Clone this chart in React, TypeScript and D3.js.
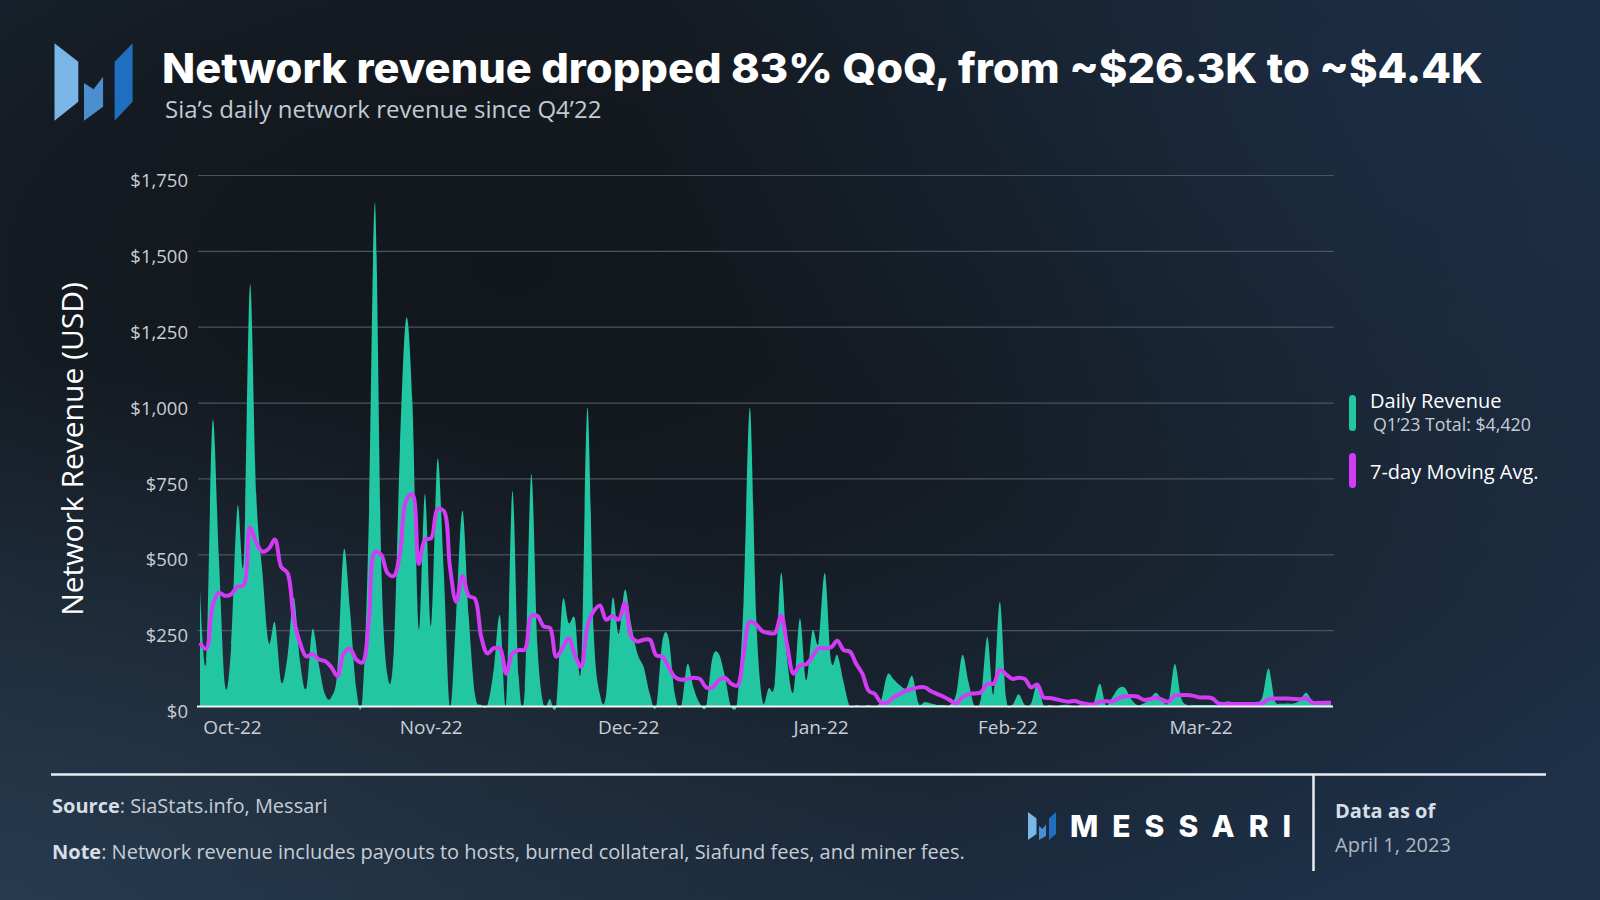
import React from "react";
import * as d3 from "d3";

// ---- Data ----
const dailyRevenue: number[] = [
  390, 150, 940, 500, 70, 200, 660, 480, 1390, 700,
  440, 210, 277, 80, 165, 360, 150, 60, 255, 140,
  40, 30, 120, 515, 320, 60, 30, 600, 1660, 480,
  105, 180, 850, 1280, 1000, 255, 700, 265, 815, 450,
  0, 300, 645, 300, 40, 5, 5, 120, 300, 10,
  710, 100, 60, 765, 200, 5, 25, 0, 345, 275,
  290, 130, 985, 250, 40, 40, 355, 240, 385, 270,
  175, 130, 40, 0, 215, 225, 40, 0, 140, 60,
  10, 0, 160, 175, 100, 0, 20, 350, 985, 300,
  20, 60, 80, 440, 150, 50, 290, 86, 250, 210,
  440, 150, 170, 80, 0, 5, 0, 5, 0, 20,
  105, 90, 70, 60, 100, 10, 15, 10, 5, 5,
  5, 40, 170, 80, 0, 30, 230, 40, 345, 30,
  5, 40, 5, 10, 75, 5, 5, 0, 5, 5,
  0, 5, 0, 10, 75, 5, 30, 60, 62, 25,
  5, 10, 25, 45, 20, 15, 140, 30, 5, 5,
  5, 5, 5, 5, 15, 15, 5, 10, 15, 15,
  30, 125, 20, 10, 10, 10, 20, 45, 20, 10,
  10, 10,
];

const movingAvg: number[] = [
  210, 190, 330, 375, 365, 370, 395, 400, 590, 540,
  510, 520, 550, 460, 440, 290, 210, 165, 173, 155,
  150, 130, 100, 175, 190, 155, 145, 280, 510, 500,
  440, 430, 505, 680, 700, 470, 550, 555, 650, 645,
  460, 345, 430, 365, 355, 230, 175, 192, 192, 108,
  175, 186, 188, 298, 298, 264, 259, 164, 192, 225,
  169, 130, 264, 314, 333, 286, 298, 286, 342, 231,
  214, 220, 220, 169, 164, 130, 97, 88, 91, 95,
  91, 63, 63, 86, 95, 75, 69, 175, 281, 270,
  248, 242, 242, 300, 197, 108, 136, 139, 164, 192,
  192, 195, 217, 186, 181, 141, 108, 52, 41, 13,
  13, 30, 41, 52, 58, 63, 63, 50, 41, 32,
  21, 10, 30, 41, 43, 47, 75, 75, 121, 106,
  91, 95, 91, 63, 72, 30, 28, 24, 19, 16,
  18, 12, 8, 7, 16, 17, 17, 27, 33, 35,
  33, 22, 24, 29, 22, 16, 36, 38, 38, 35,
  30, 30, 27, 10, 8, 8, 8, 8, 8, 8,
  10, 24, 26, 26, 26, 25, 24, 28, 13, 12,
  12, 12,
];

const monthLabels: string[] = ["Oct-22", "Nov-22", "Dec-22", "Jan-22", "Feb-22", "Mar-22"];
const monthLabelDay: number[] = [5.2, 37.0, 68.6, 99.4, 129.3, 160.2];
const yTicks: number[] = [0, 250, 500, 750, 1000, 1250, 1500, 1750];

const TEAL = "#22c6a2";
const PURPLE = "#d23cf6";
const FONT = "'Open Sans', 'Noto Sans', sans-serif";

export default function App() {
  const W = 1600;
  const H = 900;
  const x = d3.scaleLinear().domain([0, dailyRevenue.length - 1]).range([200, 1331]);
  const y = d3.scaleLinear().domain([0, 1750]).range([706.5, 175.5]);

  const area = d3
    .area<number>()
    .x((_, i) => x(i))
    .y0(y(0))
    .y1((d) => y(d))
    .curve(d3.curveCatmullRom.alpha(0));
  const line = d3
    .line<number>()
    .x((_, i) => x(i))
    .y((d) => y(d))
    .curve(d3.curveCatmullRom.alpha(0.5));

  const fmt = d3.format("$,");

  return (
    <svg
      width={W}
      height={H}
      viewBox={`0 0 ${W} ${H}`}
      style={{ position: "absolute", left: 0, top: 0, display: "block" }}
    >
      <defs>
        <radialGradient id="bg" cx="0.32" cy="0.3" r="0.85" gradientUnits="objectBoundingBox">
          <stop offset="0" stopColor="#12171c" />
          <stop offset="0.35" stopColor="#141a21" />
          <stop offset="0.7" stopColor="#1a2634" />
          <stop offset="1" stopColor="#1d3047" />
        </radialGradient>
        <radialGradient id="glowBL" cx="0" cy="1" r="0.6">
          <stop offset="0" stopColor="#2a3e52" stopOpacity="0.75" />
          <stop offset="1" stopColor="#2a3e52" stopOpacity="0" />
        </radialGradient>
        <radialGradient id="glowTR" cx="1" cy="0.1" r="0.6">
          <stop offset="0" stopColor="#1c2f48" stopOpacity="0.8" />
          <stop offset="1" stopColor="#1c2f48" stopOpacity="0" />
        </radialGradient>
        <clipPath id="plotClip">
          <rect x={195} y={150} width={1145} height={y(0) + 3 - 150} />
        </clipPath>
      </defs>
      <rect x={0} y={0} width={W} height={H} fill="url(#bg)" />
      <rect x={0} y={0} width={W} height={H} fill="url(#glowBL)" />
      <rect x={0} y={0} width={W} height={H} fill="url(#glowTR)" />

      {/* Logo */}
      <g>
        <polygon points="54.5,43.3 78.3,61.7 78.3,101.7 54.5,120.7" fill="#7ab7e6" />
        <polygon points="84,83 93.6,89.3 103.1,76.7 103.1,106.7 84,120.7" fill="#4b8fd0" />
        <polygon points="132.6,43.3 114.6,61.7 114.6,120.7 132.6,101.7" fill="#1f6ebf" />
      </g>

      {/* Title */}
      <text
        x={162}
        y={83}
        fill="#ffffff"
        fontFamily="Inter, 'Open Sans', sans-serif"
        fontWeight={800}
        fontSize={41}
        textLength={1321}
        lengthAdjust="spacingAndGlyphs"
      >
        Network revenue dropped 83% QoQ, from ~$26.3K to ~$4.4K
      </text>
      <text x={165} y={118} fill="#c3cad3" fontFamily={FONT} fontSize={24}>
        Sia’s daily network revenue since Q4’22
      </text>

      {/* Gridlines */}
      {yTicks
        .filter((t) => t > 0)
        .map((t) => (
          <line key={t} x1={198} x2={1334} y1={y(t)} y2={y(t)} stroke="#4a5360" strokeWidth={1.2} />
        ))}

      {/* Y tick labels */}
      {yTicks.map((t) => (
        <text
          key={"l" + t}
          x={188}
          y={y(t) + 5}
          dy="0.36em"
          textAnchor="end"
          fill="#c9ced5"
          fontFamily={FONT}
          fontSize={18.5}
        >
          {fmt(t)}
        </text>
      ))}

      {/* Y axis title */}
      <text
        transform={`translate(83,449) rotate(-90)`}
        textAnchor="middle"
        fill="#ffffff"
        fontFamily={FONT}
        fontSize={30}
      >
        Network Revenue (USD)
      </text>

      {/* Area and line */}
      <g clipPath="url(#plotClip)">
        <path d={area(dailyRevenue) ?? ""} fill={TEAL} />
      </g>
      <path d={line(movingAvg) ?? ""} fill="none" stroke={PURPLE} strokeWidth={4} strokeLinejoin="round" />

      {/* Baseline */}
      <line x1={197} x2={1333} y1={y(0)} y2={y(0)} stroke="#f2f4f6" strokeWidth={2} />

      {/* X labels */}
      {monthLabels.map((m, i) => (
        <text
          key={m}
          x={x(monthLabelDay[i])}
          y={734}
          textAnchor="middle"
          fill="#c9ced5"
          fontFamily={FONT}
          fontSize={19}
        >
          {m}
        </text>
      ))}

      {/* Legend */}
      <rect x={1349} y={395} width={7} height={36} rx={3.5} fill={TEAL} />
      <text x={1370} y={408} fill="#ffffff" fontFamily={FONT} fontSize={20} fontWeight={500}>
        Daily Revenue
      </text>
      <text x={1373} y={431} fill="#c6cdd5" fontFamily={FONT} fontSize={17.8}>
        Q1’23 Total: $4,420
      </text>
      <rect x={1349} y={453} width={7} height={35} rx={3.5} fill={PURPLE} />
      <text x={1370} y={479} fill="#ffffff" fontFamily={FONT} fontSize={20} fontWeight={500}>
        7-day Moving Avg.
      </text>

      {/* Footer */}
      <line x1={51} x2={1546} y1={774.5} y2={774.5} stroke="#e9edf1" strokeWidth={2.5} />
      <line x1={1313.5} x2={1313.5} y1={774.5} y2={871} stroke="#e9edf1" strokeWidth={2.5} />
      <text x={52} y={813} fill="#c6cdd5" fontFamily={FONT} fontSize={20}>
        <tspan fontWeight={700} fill="#d8dee6">Source</tspan>
        <tspan>: SiaStats.info, Messari</tspan>
      </text>
      <text x={52} y={859} fill="#c6cdd5" fontFamily={FONT} fontSize={20}>
        <tspan fontWeight={700} fill="#d8dee6">Note</tspan>
        <tspan>: Network revenue includes payouts to hosts, burned collateral, Siafund fees, and miner fees.</tspan>
      </text>

      {/* Messari wordmark */}
      <g>
        <polygon points="1028,812 1036.5,818.5 1036.5,834 1028,840" fill="#7ab7e6" />
        <polygon points="1039,826 1042.5,829 1046,824.5 1046,836 1039,840" fill="#4b8fd0" />
        <polygon points="1056,812 1049,818.5 1049,840 1056,834" fill="#1f6ebf" />
      </g>
      <text
        x={1070}
        y={837}
        fill="#ffffff"
        fontFamily="Inter, 'Open Sans', sans-serif"
        fontWeight={800}
        fontSize={30}
        letterSpacing={14}
      >
        MESSARI
      </text>

      <text x={1335} y={818} fill="#d8dee6" fontFamily={FONT} fontSize={20} fontWeight={700}>
        Data as of
      </text>
      <text x={1335} y={852} fill="#aeb7c2" fontFamily={FONT} fontSize={20}>
        April 1, 2023
      </text>
    </svg>
  );
}
